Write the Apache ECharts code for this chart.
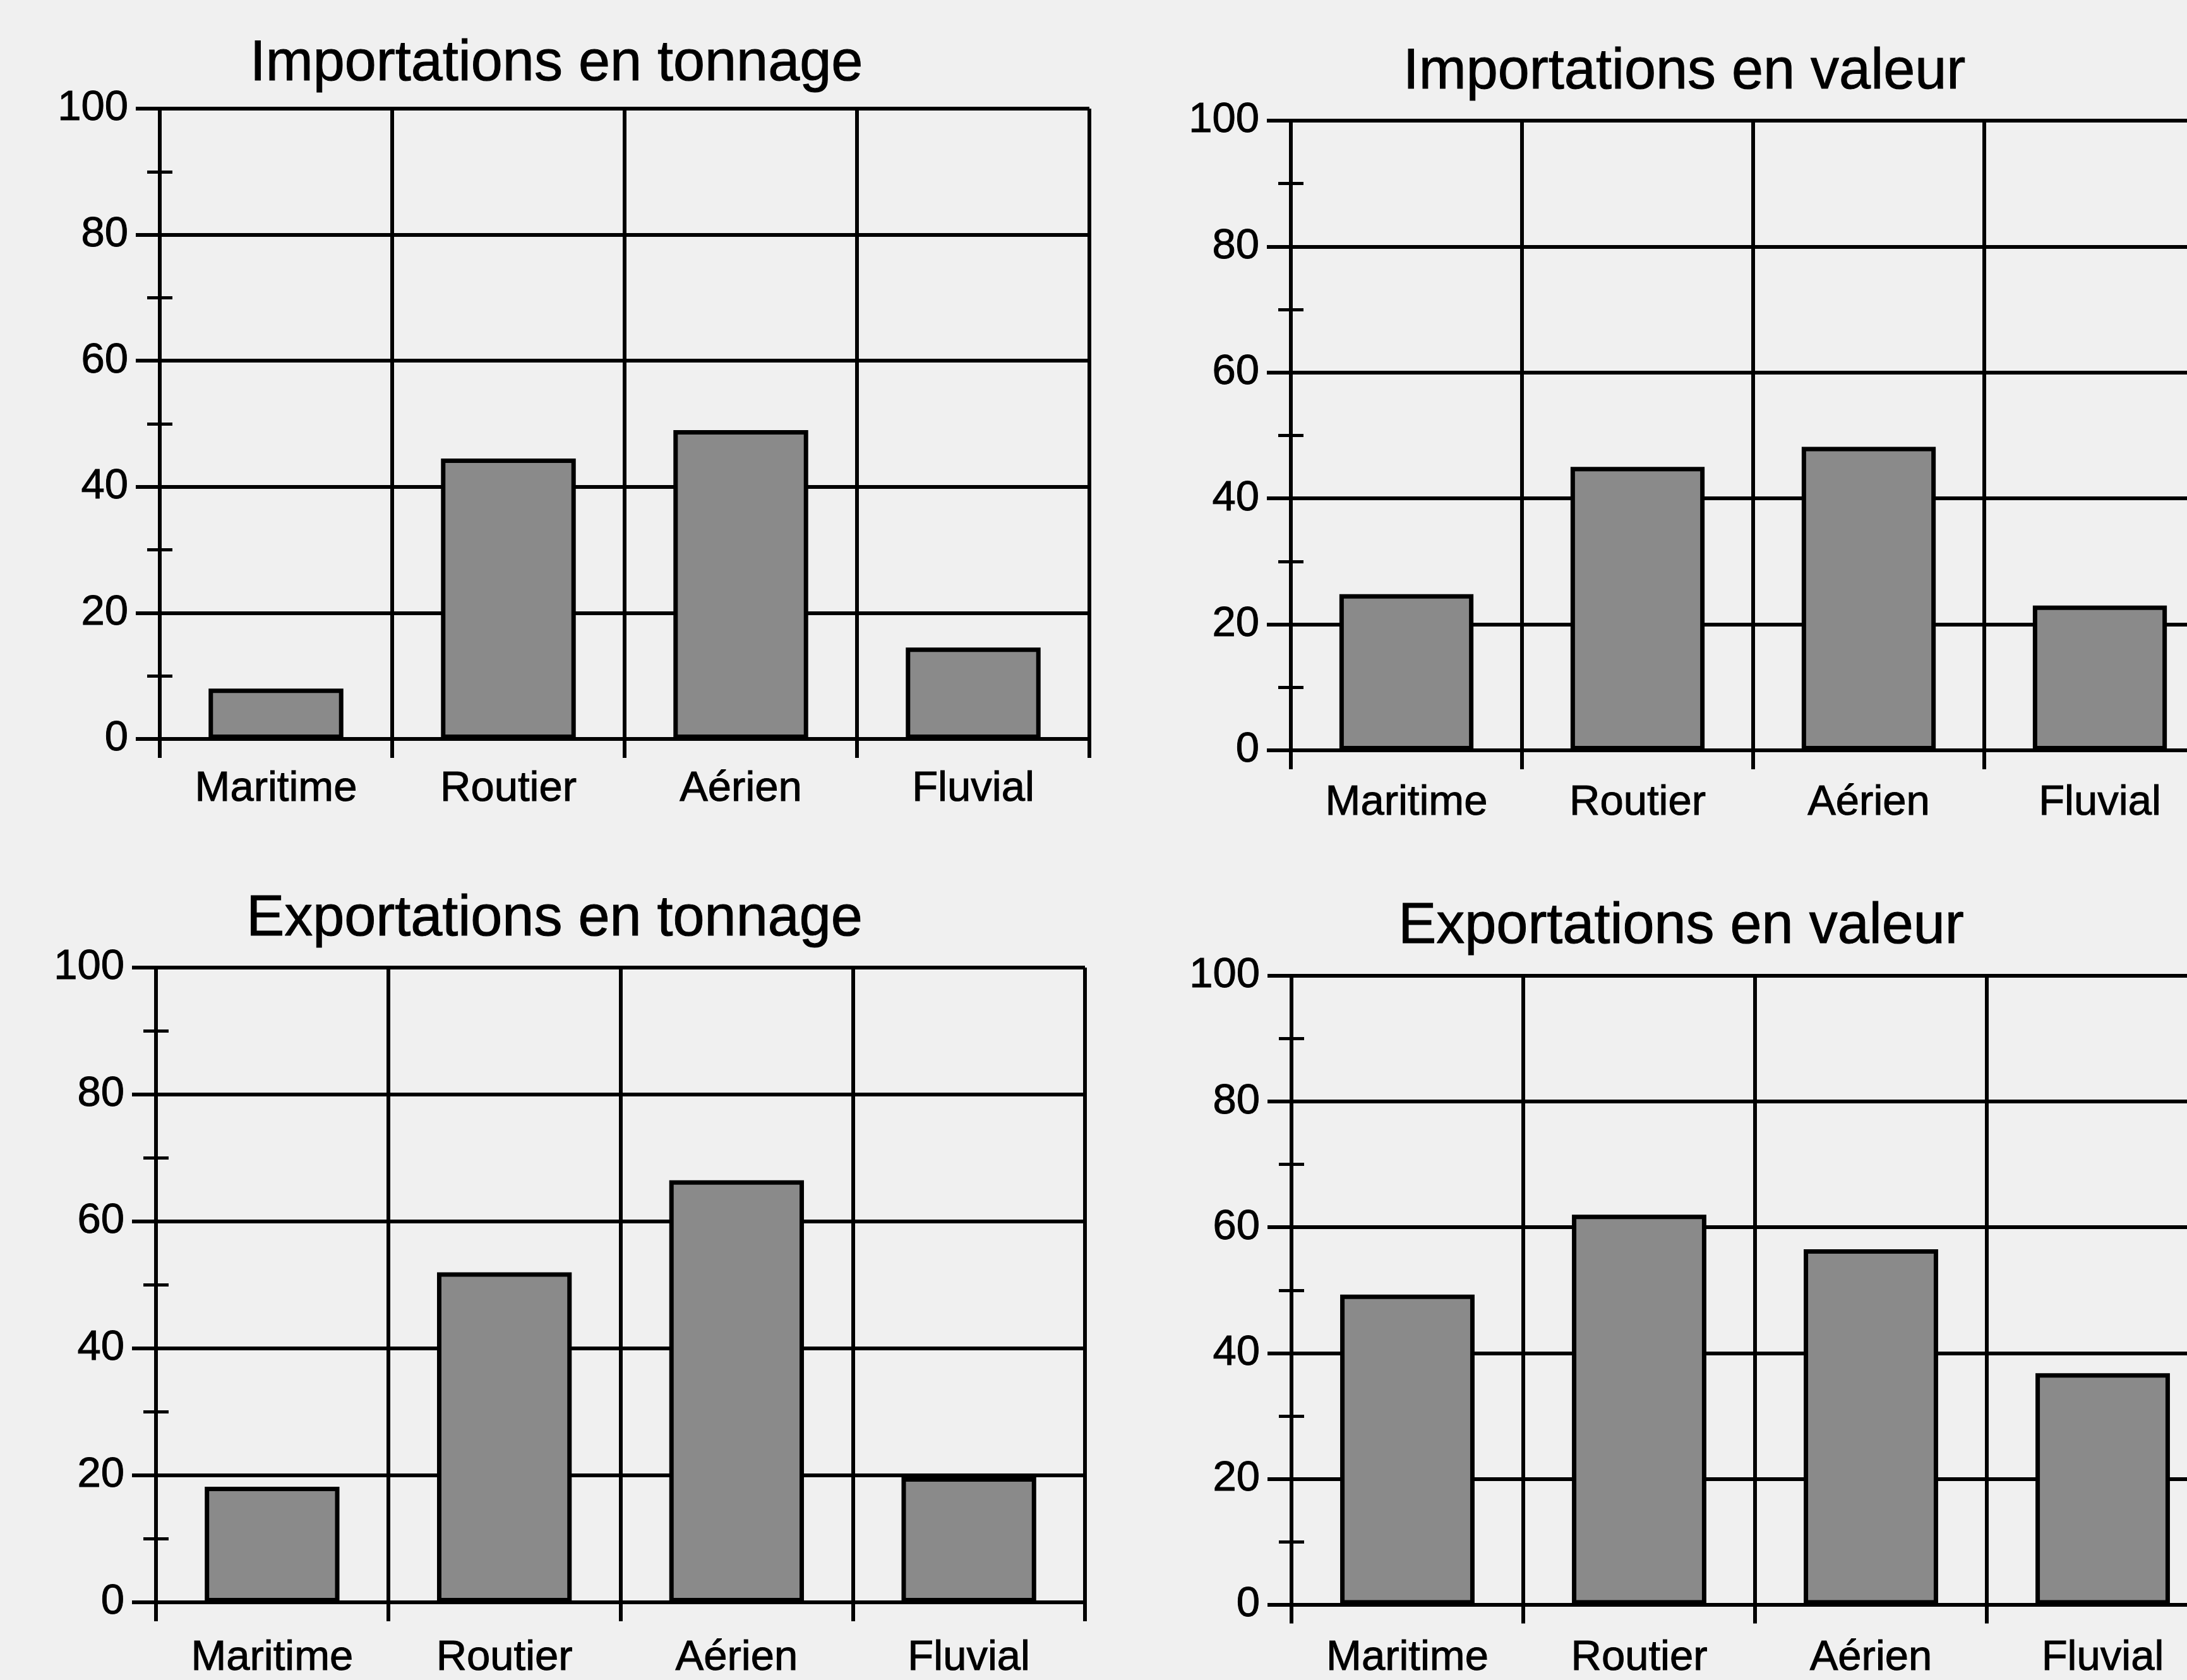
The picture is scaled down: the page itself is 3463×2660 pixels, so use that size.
<!DOCTYPE html>
<html>
<head>
<meta charset="utf-8">
<title>Importations / Exportations</title>
<script src="https://cdn.jsdelivr.net/npm/echarts@6/dist/echarts.min.js"></script>
<style>
  html, body { margin: 0; padding: 0; background: #f0f0f0; overflow: hidden; }
  /* wider than the window: the right panels run off the page like on the scan */
  #chart { width: 3700px; height: 2660px; }
</style>
</head>
<body>
<div id="chart"></div>
<script>
  // categories and values (%)
  const categories = ['Maritime', 'Routier', 'Aérien', 'Fluvial'];
  const titles = ['Importations en tonnage', 'Importations en valeur', 'Exportations en tonnage', 'Exportations en valeur'];
  const importTonnage = [8, 44.5, 49, 14.5];
  const importValeur = [24.8, 45, 48.2, 23];
  const exportTonnage = [18.2, 52, 66.5, 19.7];
  const exportValeur = [49.3, 62, 56.5, 36.8];
  const yMin = 0, yMax = 100, yStep = 20;

  const font = '"Liberation Sans", Arial, sans-serif';
  const ink = '#000';

  const panels = [
    { title: titles[0], values: importTonnage, left: 253, top: 172, width: 1472, height: 998, tx: 881, ty: 102, xMargin: 46 },
    { title: titles[1], values: importValeur, left: 2044, top: 191, width: 1464, height: 997, tx: 2667, ty: 115, xMargin: 50 },
    { title: titles[2], values: exportTonnage, left: 247, top: 1532, width: 1471, height: 1005, tx: 878, ty: 1456, xMargin: 55 },
    { title: titles[3], values: exportValeur, left: 2045, top: 1545, width: 1468, height: 1002, tx: 2662, ty: 1468, xMargin: 52 }
  ];

  let myChart = echarts.init(document.getElementById('chart'));

  let title = [], grid = [], xAxis = [], yAxis = [], series = [];
  panels.forEach(function (p, i) {
    title.push({
      text: p.title,
      left: p.tx,
      top: p.ty,
      padding: 0,
      textAlign: 'center',
      textVerticalAlign: 'middle',
      textStyle: { fontFamily: font, fontSize: 90, fontWeight: 'normal', color: ink, textBorderColor: ink, textBorderWidth: 1 }
    });
    grid.push({ left: p.left, top: p.top, width: p.width, height: p.height, containLabel: false });
    xAxis.push({
      gridIndex: i,
      type: 'category',
      data: categories,
      boundaryGap: true,
      axisLine: { show: true, onZero: false, lineStyle: { color: ink, width: 6 } },
      axisTick: { show: true, interval: 0, length: 30, lineStyle: { color: ink, width: 6 } },
      splitLine: { show: true, interval: 0, lineStyle: { color: ink, width: 6 } },
      axisLabel: { interval: 0, margin: p.xMargin, fontFamily: font, fontSize: 67, color: ink, textBorderColor: ink, textBorderWidth: 1 }
    });
    // main value axis: labels, outer ticks, grid lines, outer half of minor ticks
    yAxis.push({
      gridIndex: i,
      type: 'value',
      position: 'left',
      min: yMin,
      max: yMax,
      interval: yStep,
      axisLine: { show: true, lineStyle: { color: ink, width: 6 } },
      axisTick: { show: true, length: 38, lineStyle: { color: ink, width: 6 } },
      minorTick: { show: true, splitNumber: 2, length: 20, lineStyle: { color: ink, width: 5 } },
      splitLine: { show: true, lineStyle: { color: ink, width: 6 } },
      axisLabel: { margin: 50, fontFamily: font, fontSize: 67, color: ink, textBorderColor: ink, textBorderWidth: 1 }
    });
    // twin axis only to draw the inner half of the minor ticks
    yAxis.push({
      gridIndex: i,
      type: 'value',
      position: 'left',
      offset: 0,
      min: yMin,
      max: yMax,
      interval: yStep,
      axisLine: { show: false },
      axisTick: { show: false, inside: true },
      minorTick: { show: true, splitNumber: 2, length: 20, lineStyle: { color: ink, width: 5 } },
      splitLine: { show: false },
      axisLabel: { show: false }
    });
    series.push({
      name: p.title,
      type: 'bar',
      xAxisIndex: i,
      yAxisIndex: i * 2,
      barWidth: '58%',
      data: p.values,
      itemStyle: { color: '#8a8a8a', borderColor: ink, borderWidth: 7 }
    });
  });

  myChart.setOption({
    backgroundColor: '#f0f0f0',
    animation: false,
    title: title,
    grid: grid,
    xAxis: xAxis,
    yAxis: yAxis,
    series: series
  });
</script>
</body>
</html>
